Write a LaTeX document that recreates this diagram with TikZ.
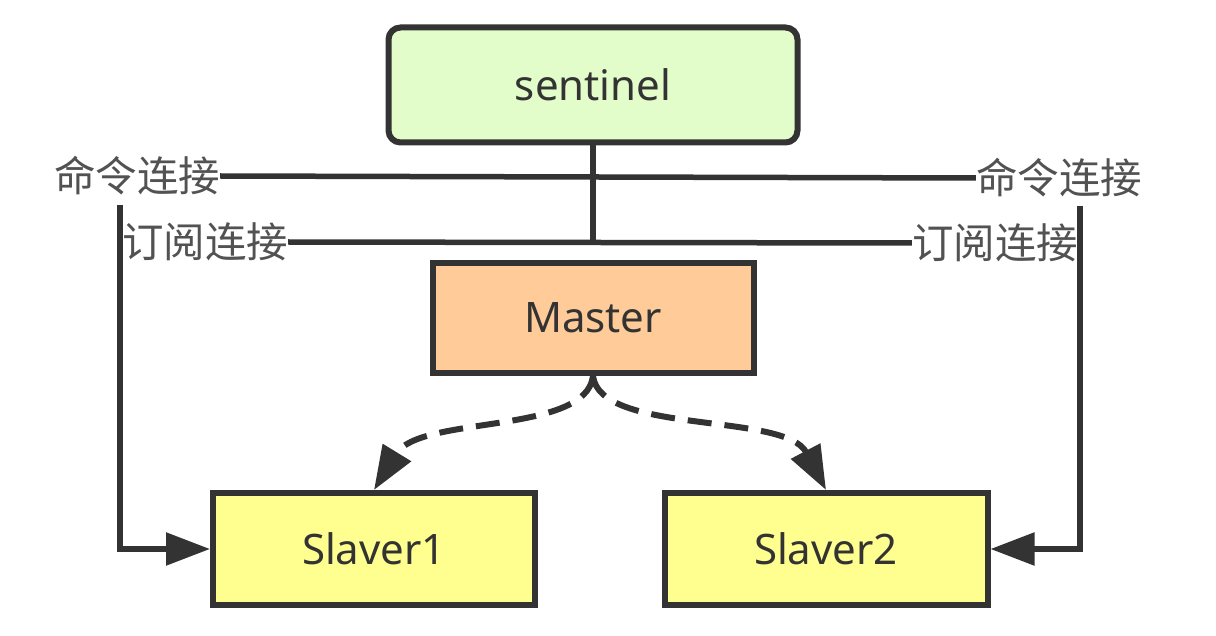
\documentclass[tikz,border=0pt]{standalone}
\usepackage{fontspec}
\setmainfont{Noto Sans}
\newfontfamily\cjk{Noto Sans CJK SC}
\usetikzlibrary{arrows.meta}
\definecolor{edge}{HTML}{333333}
\definecolor{sentfill}{HTML}{E2FCCA}
\definecolor{masterfill}{HTML}{FFCC99}
\definecolor{slavefill}{HTML}{FFFF8F}
\tikzset{
  box/.style={draw=edge, line width=6pt, minimum width=#1, text=edge,
    font=\fontsize{42}{46}\selectfont, inner sep=0pt},
  lbl/.style={text=edge!85, font=\cjk\fontsize{41.5}{45}\selectfont, inner sep=0pt},
  wire/.style={draw=edge, line width=5.5pt},
  headtip/.style={-{Triangle[length=44pt,width=32pt]}},
  repl/.style={draw=edge, line width=6pt, dash pattern=on 24pt off 13pt}
}
\begin{document}
\begin{tikzpicture}[x=1pt,y=-1pt]
  \useasboundingbox (0,0) rectangle (1216,636);

  % nodes
  \node[box=409pt, minimum height=115pt, fill=sentfill, rounded corners=12pt] (sent) at (593,85) {sentinel};
  \node[box=321pt, minimum height=110pt, fill=masterfill] (master) at (593,318) {Master};
  \node[box=322pt, minimum height=112pt, fill=slavefill] (s1) at (374,549) {Slaver1};
  \node[box=323pt, minimum height=112pt, fill=slavefill] (s2) at (826,549) {Slaver2};

  % connection labels
  \node[lbl] (cmdL) at (137,176) {命令连接};
  \node[lbl] (cmdR) at (1059,178) {命令连接};
  \node[lbl] (subL) at (205,242) {订阅连接};
  \node[lbl] (subR) at (995,243) {订阅连接};

  \coordinate (hub) at (593,240);
  \coordinate (lt) at (120,205);
  \coordinate (rt) at (1080,206);

  % sentinel links
  \draw[wire] (sent.south) -- (hub);
  \draw[wire] (cmdL.east) -- (cmdR.west);
  \draw[wire] (subL.east) -- (subR.west);
  \draw[wire, headtip] (lt) |- (s1.west);
  \draw[wire, headtip] (rt) |- (s2.east);

  % replication
  \draw[repl, headtip] (master.south) .. controls (586,435) and (420,415) .. (s1.north);
  \draw[repl, headtip] (master.south) .. controls (600,435) and (785,412) .. (s2.north);
\end{tikzpicture}
\end{document}
